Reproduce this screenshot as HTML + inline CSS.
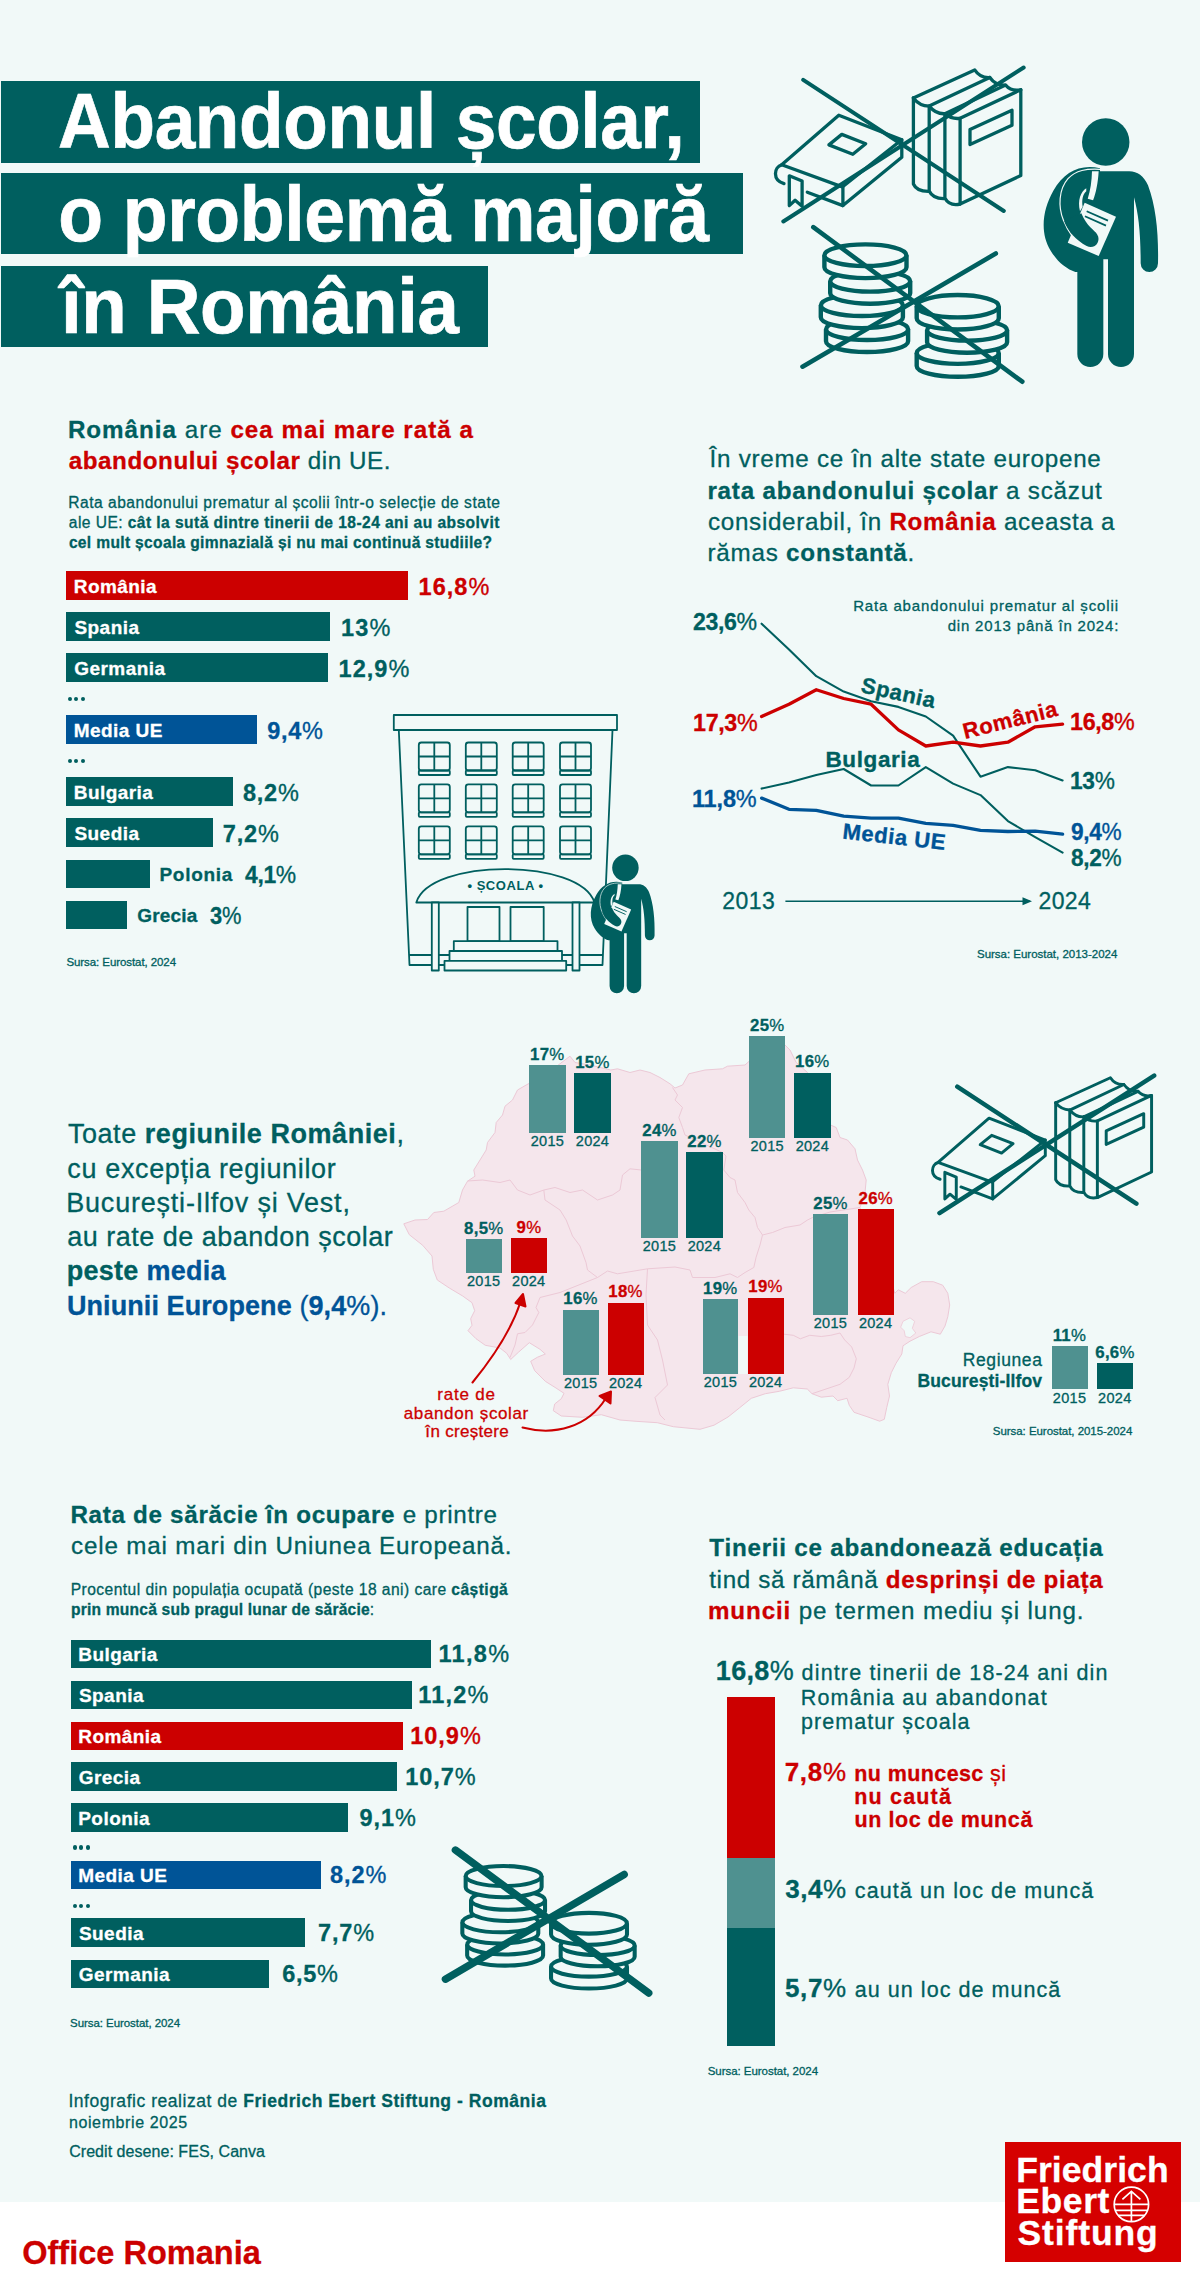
<!DOCTYPE html>
<html lang="ro"><head><meta charset="utf-8"><title>Abandonul școlar, o problemă majoră în România</title>
<style>
html,body{margin:0;padding:0}
body{width:1200px;height:2282px;position:relative;overflow:hidden;background:#f1f9f8;font-family:"Liberation Sans",sans-serif;color:#005f5f}
.t{position:absolute;white-space:nowrap;line-height:1;-webkit-text-stroke:0.3px currentColor}
.r{position:absolute}
svg{position:absolute;left:0;top:0}
b{font-weight:700}
</style></head>
<body>
<svg width="1200" height="2282" viewBox="0 0 1200 2282"><polygon points="403.8,1223.8 415.0,1220.0 427.5,1219.5 433.8,1212.5 443.8,1211.2 458.8,1202.5 462.5,1190.0 467.5,1181.2 475.0,1176.2 473.8,1170.0 480.0,1160.0 486.2,1150.0 487.5,1142.5 495.0,1132.5 496.2,1122.5 502.5,1115.0 505.0,1106.2 512.5,1100.0 517.5,1090.0 526.2,1085.0 540.0,1077.5 555.0,1067.5 570.0,1056.2 575.0,1062.5 590.0,1065.0 610.8,1070.0 617.5,1068.8 630.0,1072.5 640.0,1070.0 650.0,1072.5 660.0,1077.5 670.0,1083.8 675.0,1088.0 682.5,1085.0 688.8,1073.8 705.0,1070.0 722.5,1068.8 727.5,1066.2 745.0,1065.0 749.2,1061.2 765.0,1050.0 785.0,1045.0 790.0,1050.0 796.2,1062.5 807.5,1072.5 815.0,1090.0 825.0,1110.0 830.5,1125.0 836.2,1127.5 840.0,1137.5 847.5,1140.0 855.0,1148.8 857.5,1160.0 862.5,1170.0 866.2,1180.0 865.0,1192.5 860.0,1207.5 868.0,1235.0 880.0,1262.0 893.0,1287.0 894.8,1293.3 898.3,1289.8 905.3,1293.3 911.2,1287.5 921.7,1281.7 933.3,1281.7 942.7,1285.2 947.8,1293.3 949.7,1305.0 947.8,1316.7 945.0,1326.0 940.3,1334.2 931.0,1331.8 919.3,1336.5 910.0,1341.2 903.0,1345.8 901.8,1354.0 896.0,1363.3 891.3,1372.7 887.8,1384.3 889.5,1396.0 886.7,1407.7 884.3,1419.3 879.7,1421.2 868.0,1417.0 854.0,1412.3 849.3,1405.3 847.0,1398.3 837.7,1400.7 833.0,1396.0 821.3,1397.2 812.0,1393.7 807.3,1389.0 793.3,1387.8 779.3,1391.3 765.3,1393.7 751.3,1398.3 739.7,1407.7 728.0,1417.0 714.0,1425.2 700.0,1429.3 673.3,1426.7 657.3,1422.7 636.0,1421.3 620.0,1420.0 601.3,1414.7 582.7,1417.3 561.3,1416.0 553.3,1410.7 554.7,1404.0 561.3,1398.7 564.0,1393.3 556.0,1388.0 545.3,1381.3 534.7,1370.7 530.7,1361.3 537.3,1357.3 545.3,1354.0 540.0,1349.3 529.3,1342.7 518.7,1352.0 510.7,1359.5 506.7,1353.3 500.0,1348.0 485.3,1345.3 476.0,1338.7 468.0,1330.7 472.0,1325.3 470.7,1318.7 474.7,1310.7 472.0,1302.7 462.7,1296.0 449.3,1288.0 437.3,1280.0 433.3,1269.3 432.0,1256.0 422.7,1245.3 409.3,1234.7" fill="#f5e6ec" stroke="#ecc9d6" stroke-width="1" stroke-linejoin="round"/><polyline points="467.5,1181.0 482.5,1180.0 500.0,1182.5 510.0,1180.0 517.5,1190.0 530.0,1195.0 543.8,1190.0 555.0,1187.5 570.0,1192.5 582.5,1190.0 597.5,1200.0 612.5,1195.0 620.0,1190.0 622.5,1175.0 630.0,1168.8 641.2,1170.0" fill="none" stroke="#ecc9d6" stroke-width="1" stroke-linejoin="round"/><polyline points="543.8,1190.0 545.0,1200.0 560.0,1210.0 566.2,1220.0 572.5,1236.0 580.0,1246.0 586.0,1262.5 587.5,1270.0 597.5,1277.5 607.5,1271.0 617.5,1273.8 647.5,1268.8 675.0,1267.0 690.0,1270.0 692.5,1277.5 715.0,1277.5 730.0,1273.8 737.5,1277.5 745.0,1272.5 753.8,1267.5 756.0,1257.5 760.0,1245.0 762.5,1235.0" fill="none" stroke="#ecc9d6" stroke-width="1" stroke-linejoin="round"/><polyline points="647.5,1268.8 646.0,1295.0 647.5,1325.0 657.5,1340.0 662.5,1360.0 667.5,1385.0 655.0,1397.5 660.0,1415.0 665.0,1420.0" fill="none" stroke="#ecc9d6" stroke-width="1" stroke-linejoin="round"/><polyline points="597.5,1277.5 560.0,1292.5 540.0,1297.5 536.0,1307.5 538.8,1312.5 532.5,1325.0 525.0,1332.5 517.5,1333.8 515.0,1345.0 510.0,1357.5" fill="none" stroke="#ecc9d6" stroke-width="1" stroke-linejoin="round"/><polyline points="672.5,1087.5 677.5,1095.0 675.0,1100.0 682.5,1107.5 678.8,1117.5 682.5,1127.5 685.0,1135.0 700.0,1142.0 722.5,1152.5 726.0,1156.0 723.8,1170.0 730.0,1177.5 735.0,1180.0 737.5,1192.5 745.0,1202.5 748.8,1210.0 755.0,1217.5 757.5,1227.5 762.5,1235.0 772.5,1232.5 785.0,1227.5 800.0,1225.0 807.5,1220.0 812.5,1217.5 830.0,1212.0 860.0,1207.5" fill="none" stroke="#ecc9d6" stroke-width="1" stroke-linejoin="round"/><polyline points="784.0,1334.2 793.3,1335.3 800.3,1338.8 809.7,1335.3 821.3,1336.5 830.7,1335.3 840.0,1333.0 844.7,1340.0 851.7,1347.0 856.3,1358.7 854.0,1368.0 849.3,1377.3 840.0,1384.3 826.0,1389.0 812.0,1393.7" fill="none" stroke="#ecc9d6" stroke-width="1" stroke-linejoin="round"/><polygon points="903.0,1321.3 910.0,1317.8 914.7,1321.3 912.3,1328.3 915.8,1333.0 910.0,1337.7 905.3,1336.5 904.2,1330.7 900.7,1327.2" fill="#f1f9f8" stroke="#ecc9d6" stroke-width="0.8"/><rect x="738.5" y="1336" width="9" height="38" fill="#f1f9f8"/></svg>
<div class="r" style="left:1.00px;top:80.50px;width:699.00px;height:82.20px;background:#005f5f;"></div>
<div class="r" style="left:1.00px;top:172.50px;width:742.00px;height:81.25px;background:#005f5f;"></div>
<div class="r" style="left:1.00px;top:265.50px;width:486.50px;height:81.00px;background:#005f5f;"></div>
<div class="t" style="left:58.08px;top:83.00px;font-size:77px;letter-spacing:-0.350px;color:#ffffff;transform:scaleX(0.9469);transform-origin:1.92px 50%;-webkit-text-stroke:0.7px #fff;"><b>Abandonul școlar,</b></div>
<div class="t" style="left:58.49px;top:176.00px;font-size:77px;letter-spacing:-0.350px;color:#ffffff;transform:scaleX(0.9526);transform-origin:3.01px 50%;-webkit-text-stroke:0.7px #fff;"><b>o problemă majoră</b></div>
<div class="t" style="left:60.62px;top:268.00px;font-size:77px;letter-spacing:-0.350px;color:#ffffff;transform:scaleX(0.9664);transform-origin:-3.12px 50%;-webkit-text-stroke:0.7px #fff;"><b>în România</b></div>
<div class="t" style="left:67.88px;top:418.00px;font-size:24.2px;letter-spacing:0.996px;"><b>România</b> are <b style="color:#cc0000">cea mai mare rată a</b></div>
<div class="t" style="left:68.79px;top:449.00px;font-size:24.2px;letter-spacing:0.553px;"><b style="color:#cc0000">abandonului școlar</b> din UE.</div>
<div class="t" style="left:68.22px;top:495.00px;font-size:15.6px;letter-spacing:0.500px;">Rata abandonului prematur al școlii într-o selecție de state</div>
<div class="t" style="left:68.84px;top:515.00px;font-size:15.6px;letter-spacing:0.430px;">ale UE: <b>cât la sută dintre tinerii de 18-24 ani au absolvit</b></div>
<div class="t" style="left:68.89px;top:535.00px;font-size:15.6px;letter-spacing:0.327px;"><b>cel mult școala gimnazială și nu mai continuă studiile?</b></div>
<div class="r" style="left:66.00px;top:571.00px;width:341.50px;height:28.50px;background:#cc0000;"></div>
<div class="t" style="left:73.73px;top:577.00px;font-size:19px;letter-spacing:0.450px;color:#ffffff;"><b>România</b></div>
<div class="t" style="left:418.52px;top:576.00px;font-size:23.5px;letter-spacing:1.046px;color:#cc0000;"><b>16,8</b>%</div>
<div class="r" style="left:66.00px;top:612.00px;width:264.25px;height:28.50px;background:#005f5f;"></div>
<div class="t" style="left:74.45px;top:618.00px;font-size:19px;letter-spacing:0.450px;color:#ffffff;"><b>Spania</b></div>
<div class="t" style="left:341.02px;top:617.00px;font-size:23.5px;letter-spacing:1.141px;"><b>13</b>%</div>
<div class="r" style="left:66.00px;top:653.00px;width:262.25px;height:28.50px;background:#005f5f;"></div>
<div class="t" style="left:74.22px;top:659.00px;font-size:19px;letter-spacing:0.450px;color:#ffffff;"><b>Germania</b></div>
<div class="t" style="left:338.52px;top:658.00px;font-size:23.5px;letter-spacing:1.046px;"><b>12,9</b>%</div>
<div class="r" style="left:66.00px;top:715.00px;width:191.00px;height:28.50px;background:#005497;"></div>
<div class="t" style="left:73.73px;top:721.00px;font-size:19px;letter-spacing:0.450px;color:#ffffff;"><b>Media UE</b></div>
<div class="t" style="left:267.19px;top:720.00px;font-size:23.5px;letter-spacing:0.696px;color:#005497;"><b>9,4</b>%</div>
<div class="r" style="left:66.00px;top:777.00px;width:166.75px;height:28.50px;background:#005f5f;"></div>
<div class="t" style="left:73.73px;top:783.00px;font-size:19px;letter-spacing:0.450px;color:#ffffff;"><b>Bulgaria</b></div>
<div class="t" style="left:243.00px;top:782.00px;font-size:23.5px;letter-spacing:0.756px;"><b>8,2</b>%</div>
<div class="r" style="left:66.00px;top:818.00px;width:146.50px;height:28.50px;background:#005f5f;"></div>
<div class="t" style="left:74.45px;top:824.00px;font-size:19px;letter-spacing:0.450px;color:#ffffff;"><b>Suedia</b></div>
<div class="t" style="left:222.74px;top:823.00px;font-size:23.5px;letter-spacing:0.844px;"><b>7,2</b>%</div>
<div class="r" style="left:66.00px;top:859.50px;width:83.50px;height:28.50px;background:#005f5f;"></div>
<div class="t" style="left:159.48px;top:865.00px;font-size:19px;letter-spacing:0.714px;"><b>Polonia</b></div>
<div class="t" style="left:244.64px;top:864.00px;font-size:23.5px;letter-spacing:-0.350px;transform:scaleX(0.9743);transform-origin:0.36px 50%;"><b>4,1</b>%</div>
<div class="r" style="left:66.00px;top:900.50px;width:61.00px;height:28.50px;background:#005f5f;"></div>
<div class="t" style="left:137.22px;top:906.00px;font-size:19px;letter-spacing:0.201px;"><b>Grecia</b></div>
<div class="t" style="left:210.46px;top:905.00px;font-size:23.5px;letter-spacing:-0.350px;transform:scaleX(0.9306);transform-origin:0.54px 50%;"><b>3</b>%</div>
<div class="r" style="left:67.5px;top:696.7px;width:4.2px;height:4.2px;border-radius:50%;background:#005f5f"></div>
<div class="r" style="left:74.0px;top:696.7px;width:4.2px;height:4.2px;border-radius:50%;background:#005f5f"></div>
<div class="r" style="left:80.5px;top:696.7px;width:4.2px;height:4.2px;border-radius:50%;background:#005f5f"></div>
<div class="r" style="left:67.5px;top:758.9px;width:4.2px;height:4.2px;border-radius:50%;background:#005f5f"></div>
<div class="r" style="left:74.0px;top:758.9px;width:4.2px;height:4.2px;border-radius:50%;background:#005f5f"></div>
<div class="r" style="left:80.5px;top:758.9px;width:4.2px;height:4.2px;border-radius:50%;background:#005f5f"></div>
<div class="t" style="left:66.48px;top:957.00px;font-size:11.5px;letter-spacing:-0.082px;">Sursa: Eurostat, 2024</div>
<div class="t" style="left:709.54px;top:447.00px;font-size:24.2px;letter-spacing:0.734px;">În vreme ce în alte state europene</div>
<div class="t" style="left:707.40px;top:479.00px;font-size:24.2px;letter-spacing:0.796px;"><b>rata abandonului școlar</b> a scăzut</div>
<div class="t" style="left:707.97px;top:510.00px;font-size:24.2px;letter-spacing:0.705px;">considerabil, în <b style="color:#cc0000">România</b> aceasta a</div>
<div class="t" style="left:707.39px;top:541.00px;font-size:24.2px;letter-spacing:0.802px;">rămas <b>constantă</b>.</div>
<div class="t" style="left:853.17px;top:598.00px;font-size:15px;letter-spacing:0.874px;">Rata abandonului prematur al școlii</div>
<div class="t" style="left:947.67px;top:618.00px;font-size:15px;letter-spacing:0.821px;">din 2013 până în 2024:</div>
<div class="t" style="left:692.59px;top:611.00px;font-size:23.5px;letter-spacing:-0.350px;transform:scaleX(0.9830);transform-origin:0.81px 50%;"><b>23,6</b>%</div>
<div class="t" style="left:693.12px;top:712.00px;font-size:23.5px;letter-spacing:-0.350px;color:#cc0000;transform:scaleX(0.9918);transform-origin:1.48px 50%;"><b>17,3</b>%</div>
<div class="t" style="left:691.92px;top:788.00px;font-size:23.5px;letter-spacing:-0.130px;color:#005497;"><b>11,8</b>%</div>
<div class="t" style="left:1070.32px;top:711.00px;font-size:23.5px;letter-spacing:-0.350px;color:#cc0000;transform:scaleX(0.9918);transform-origin:1.48px 50%;"><b>16,8</b>%</div>
<div class="t" style="left:1070.32px;top:770.00px;font-size:23.5px;letter-spacing:-0.350px;transform:scaleX(0.9655);transform-origin:1.48px 50%;"><b>13</b>%</div>
<div class="t" style="left:1070.99px;top:821.00px;font-size:23.5px;letter-spacing:-0.350px;color:#005497;transform:scaleX(0.9634);transform-origin:0.81px 50%;"><b>9,4</b>%</div>
<div class="t" style="left:1071.05px;top:847.00px;font-size:23.5px;letter-spacing:-0.350px;transform:scaleX(0.9621);transform-origin:0.75px 50%;"><b>8,2</b>%</div>
<div class="t" style="left:722.14px;top:890.00px;font-size:23px;letter-spacing:0.534px;">2013</div>
<div class="t" style="left:1038.44px;top:890.00px;font-size:23px;letter-spacing:0.422px;">2024</div>
<div class="t" style="left:976.98px;top:949.00px;font-size:11.5px;letter-spacing:-0.012px;">Sursa: Eurostat, 2013-2024</div>
<div class="t" style="left:67.89px;top:1121.00px;font-size:27px;letter-spacing:0.560px;">Toate <b>regiunile României</b>,</div>
<div class="t" style="left:67.35px;top:1156.00px;font-size:27px;letter-spacing:0.627px;">cu excepția regiunilor</div>
<div class="t" style="left:66.29px;top:1190.00px;font-size:27px;letter-spacing:0.784px;">București-Ilfov și Vest,</div>
<div class="t" style="left:67.35px;top:1224.00px;font-size:27px;letter-spacing:0.486px;">au rate de abandon școlar</div>
<div class="t" style="left:66.72px;top:1258.00px;font-size:27px;letter-spacing:0.284px;"><b>peste</b> <b style="color:#005497">media</b></div>
<div class="t" style="left:66.88px;top:1293.00px;font-size:27px;letter-spacing:0.089px;color:#005497;"><b>Uniunii Europene</b> (<b>9,4</b>%).</div>
<div class="r" style="left:529.25px;top:1065.00px;width:36.25px;height:68.25px;background:#4f9190;"></div>
<div class="r" style="left:574.25px;top:1073.25px;width:36.50px;height:60.00px;background:#005f5f;"></div>
<div class="t" style="left:530.08px;top:1047.00px;font-size:16.8px;letter-spacing:0.300px;"><b>17</b>%</div>
<div class="t" style="left:575.21px;top:1055.00px;font-size:16.8px;letter-spacing:0.300px;"><b>15</b>%</div>
<div class="t" style="left:530.74px;top:1134.00px;font-size:14.5px;letter-spacing:0.300px;">2015</div>
<div class="t" style="left:575.77px;top:1134.00px;font-size:14.5px;letter-spacing:0.300px;">2024</div>
<div class="r" style="left:749.25px;top:1035.75px;width:35.75px;height:101.75px;background:#4f9190;"></div>
<div class="r" style="left:794.25px;top:1072.50px;width:36.25px;height:65.00px;background:#005f5f;"></div>
<div class="t" style="left:750.07px;top:1018.00px;font-size:16.8px;letter-spacing:0.300px;"><b>25</b>%</div>
<div class="t" style="left:795.08px;top:1054.00px;font-size:16.8px;letter-spacing:0.300px;"><b>16</b>%</div>
<div class="t" style="left:750.49px;top:1139.00px;font-size:14.5px;letter-spacing:0.300px;">2015</div>
<div class="t" style="left:795.64px;top:1139.00px;font-size:14.5px;letter-spacing:0.300px;">2024</div>
<div class="r" style="left:641.25px;top:1141.25px;width:36.25px;height:97.00px;background:#4f9190;"></div>
<div class="r" style="left:686.25px;top:1151.75px;width:36.25px;height:86.50px;background:#005f5f;"></div>
<div class="t" style="left:642.32px;top:1123.00px;font-size:16.8px;letter-spacing:0.300px;"><b>24</b>%</div>
<div class="t" style="left:687.32px;top:1134.00px;font-size:16.8px;letter-spacing:0.300px;"><b>22</b>%</div>
<div class="t" style="left:642.74px;top:1239.00px;font-size:14.5px;letter-spacing:0.300px;">2015</div>
<div class="t" style="left:687.64px;top:1239.00px;font-size:14.5px;letter-spacing:0.300px;">2024</div>
<div class="r" style="left:465.50px;top:1238.75px;width:36.25px;height:33.75px;background:#4f9190;"></div>
<div class="r" style="left:510.75px;top:1238.00px;width:36.00px;height:34.50px;background:#cc0000;"></div>
<div class="t" style="left:464.12px;top:1221.00px;font-size:16.8px;letter-spacing:0.300px;"><b>8,5</b>%</div>
<div class="t" style="left:516.50px;top:1220.00px;font-size:16.8px;letter-spacing:0.300px;color:#cc0000;"><b>9</b>%</div>
<div class="t" style="left:466.99px;top:1274.00px;font-size:14.5px;letter-spacing:0.300px;">2015</div>
<div class="t" style="left:512.02px;top:1274.00px;font-size:14.5px;letter-spacing:0.300px;">2024</div>
<div class="r" style="left:562.50px;top:1309.50px;width:36.25px;height:65.00px;background:#4f9190;"></div>
<div class="r" style="left:607.50px;top:1302.50px;width:36.25px;height:72.00px;background:#cc0000;"></div>
<div class="t" style="left:563.33px;top:1291.00px;font-size:16.8px;letter-spacing:0.300px;"><b>16</b>%</div>
<div class="t" style="left:608.33px;top:1284.00px;font-size:16.8px;letter-spacing:0.300px;color:#cc0000;"><b>18</b>%</div>
<div class="t" style="left:563.99px;top:1376.00px;font-size:14.5px;letter-spacing:0.300px;">2015</div>
<div class="t" style="left:608.89px;top:1376.00px;font-size:14.5px;letter-spacing:0.300px;">2024</div>
<div class="r" style="left:702.50px;top:1299.25px;width:35.75px;height:74.50px;background:#4f9190;"></div>
<div class="r" style="left:747.50px;top:1297.50px;width:36.25px;height:76.25px;background:#cc0000;"></div>
<div class="t" style="left:703.08px;top:1281.00px;font-size:16.8px;letter-spacing:0.300px;"><b>19</b>%</div>
<div class="t" style="left:748.33px;top:1279.00px;font-size:16.8px;letter-spacing:0.300px;color:#cc0000;"><b>19</b>%</div>
<div class="t" style="left:703.74px;top:1375.00px;font-size:14.5px;letter-spacing:0.300px;">2015</div>
<div class="t" style="left:748.89px;top:1375.00px;font-size:14.5px;letter-spacing:0.300px;">2024</div>
<div class="r" style="left:812.50px;top:1213.75px;width:35.75px;height:100.75px;background:#4f9190;"></div>
<div class="r" style="left:857.50px;top:1208.75px;width:36.25px;height:105.75px;background:#cc0000;"></div>
<div class="t" style="left:813.32px;top:1196.00px;font-size:16.8px;letter-spacing:0.300px;"><b>25</b>%</div>
<div class="t" style="left:858.57px;top:1191.00px;font-size:16.8px;letter-spacing:0.300px;color:#cc0000;"><b>26</b>%</div>
<div class="t" style="left:813.74px;top:1316.00px;font-size:14.5px;letter-spacing:0.300px;">2015</div>
<div class="t" style="left:858.89px;top:1316.00px;font-size:14.5px;letter-spacing:0.300px;">2024</div>
<div class="r" style="left:1051.50px;top:1346.10px;width:36.00px;height:43.20px;background:#4f9190;"></div>
<div class="r" style="left:1096.80px;top:1363.20px;width:36.00px;height:26.10px;background:#005f5f;"></div>
<div class="t" style="left:1052.67px;top:1328.00px;font-size:16.8px;letter-spacing:0.300px;"><b>11</b>%</div>
<div class="t" style="left:1095.25px;top:1345.00px;font-size:16.8px;letter-spacing:0.300px;"><b>6,6</b>%</div>
<div class="t" style="left:1052.86px;top:1391.00px;font-size:14.5px;letter-spacing:0.300px;">2015</div>
<div class="t" style="left:1098.07px;top:1391.00px;font-size:14.5px;letter-spacing:0.300px;">2024</div>
<div class="t" style="left:962.78px;top:1352.00px;font-size:17.5px;letter-spacing:0.600px;">Regiunea</div>
<div class="t" style="left:917.53px;top:1373.00px;font-size:17.5px;letter-spacing:0.138px;"><b>București-Ilfov</b></div>
<div class="t" style="left:992.78px;top:1426.00px;font-size:11.5px;letter-spacing:-0.044px;">Sursa: Eurostat, 2015-2024</div>
<div class="t" style="left:437.20px;top:1386.00px;font-size:17px;letter-spacing:0.800px;color:#cc0000;">rate de</div>
<div class="t" style="left:403.78px;top:1405.00px;font-size:17px;letter-spacing:0.634px;color:#cc0000;">abandon școlar</div>
<div class="t" style="left:425.37px;top:1423.00px;font-size:17px;letter-spacing:0.307px;color:#cc0000;">în creștere</div>
<div class="t" style="left:70.38px;top:1503.00px;font-size:24.2px;letter-spacing:0.705px;"><b>Rata de sărăcie în ocupare</b> e printre</div>
<div class="t" style="left:70.97px;top:1534.00px;font-size:24.2px;letter-spacing:0.833px;">cele mai mari din Uniunea Europeană.</div>
<div class="t" style="left:70.72px;top:1582.00px;font-size:15.6px;letter-spacing:0.451px;">Procentul din populația ocupată (peste 18 ani) care <b>câștigă</b></div>
<div class="t" style="left:70.97px;top:1602.00px;font-size:15.6px;letter-spacing:0.202px;"><b>prin muncă sub pragul lunar de sărăcie</b>:</div>
<div class="r" style="left:70.50px;top:1639.50px;width:360.00px;height:28.50px;background:#005f5f;"></div>
<div class="t" style="left:78.23px;top:1645.00px;font-size:19px;letter-spacing:0.450px;color:#ffffff;"><b>Bulgaria</b></div>
<div class="t" style="left:438.52px;top:1643.00px;font-size:23.5px;letter-spacing:1.320px;"><b>11,8</b>%</div>
<div class="r" style="left:70.50px;top:1680.50px;width:341.50px;height:28.50px;background:#005f5f;"></div>
<div class="t" style="left:78.95px;top:1686.00px;font-size:19px;letter-spacing:0.450px;color:#ffffff;"><b>Spania</b></div>
<div class="t" style="left:418.22px;top:1684.00px;font-size:23.5px;letter-spacing:1.195px;"><b>11,2</b>%</div>
<div class="r" style="left:70.50px;top:1721.50px;width:332.50px;height:28.50px;background:#cc0000;"></div>
<div class="t" style="left:78.23px;top:1727.00px;font-size:19px;letter-spacing:0.450px;color:#ffffff;"><b>România</b></div>
<div class="t" style="left:410.22px;top:1725.00px;font-size:23.5px;letter-spacing:0.996px;color:#cc0000;"><b>10,9</b>%</div>
<div class="r" style="left:70.50px;top:1762.20px;width:326.50px;height:28.50px;background:#005f5f;"></div>
<div class="t" style="left:78.72px;top:1768.00px;font-size:19px;letter-spacing:0.450px;color:#ffffff;"><b>Grecia</b></div>
<div class="t" style="left:405.22px;top:1766.00px;font-size:23.5px;letter-spacing:0.921px;"><b>10,7</b>%</div>
<div class="r" style="left:70.50px;top:1803.40px;width:277.30px;height:28.50px;background:#005f5f;"></div>
<div class="t" style="left:78.23px;top:1809.00px;font-size:19px;letter-spacing:0.450px;color:#ffffff;"><b>Polonia</b></div>
<div class="t" style="left:359.49px;top:1807.00px;font-size:23.5px;letter-spacing:0.929px;"><b>9,1</b>%</div>
<div class="r" style="left:70.50px;top:1860.80px;width:250.00px;height:28.50px;background:#005497;"></div>
<div class="t" style="left:78.23px;top:1866.00px;font-size:19px;letter-spacing:0.450px;color:#ffffff;"><b>Media UE</b></div>
<div class="t" style="left:329.95px;top:1864.00px;font-size:23.5px;letter-spacing:0.973px;color:#005497;"><b>8,2</b>%</div>
<div class="r" style="left:70.50px;top:1918.40px;width:234.75px;height:28.50px;background:#005f5f;"></div>
<div class="t" style="left:78.95px;top:1924.00px;font-size:19px;letter-spacing:0.450px;color:#ffffff;"><b>Suedia</b></div>
<div class="t" style="left:317.99px;top:1922.00px;font-size:23.5px;letter-spacing:0.861px;"><b>7,7</b>%</div>
<div class="r" style="left:70.50px;top:1959.50px;width:198.50px;height:28.50px;background:#005f5f;"></div>
<div class="t" style="left:78.72px;top:1965.00px;font-size:19px;letter-spacing:0.450px;color:#ffffff;"><b>Germania</b></div>
<div class="t" style="left:282.14px;top:1963.00px;font-size:23.5px;letter-spacing:0.711px;"><b>6,5</b>%</div>
<div class="r" style="left:72.5px;top:1845.4px;width:4.2px;height:4.2px;border-radius:50%;background:#005f5f"></div>
<div class="r" style="left:79.0px;top:1845.4px;width:4.2px;height:4.2px;border-radius:50%;background:#005f5f"></div>
<div class="r" style="left:85.5px;top:1845.4px;width:4.2px;height:4.2px;border-radius:50%;background:#005f5f"></div>
<div class="r" style="left:72.5px;top:1903.7px;width:4.2px;height:4.2px;border-radius:50%;background:#005f5f"></div>
<div class="r" style="left:79.0px;top:1903.7px;width:4.2px;height:4.2px;border-radius:50%;background:#005f5f"></div>
<div class="r" style="left:85.5px;top:1903.7px;width:4.2px;height:4.2px;border-radius:50%;background:#005f5f"></div>
<div class="t" style="left:70.08px;top:2018.00px;font-size:11.5px;letter-spacing:-0.064px;">Sursa: Eurostat, 2024</div>
<div class="t" style="left:709.33px;top:1536.00px;font-size:24.2px;letter-spacing:0.760px;"><b>Tinerii ce abandonează educația</b></div>
<div class="t" style="left:709.23px;top:1568.00px;font-size:24.2px;letter-spacing:0.659px;">tind să rămână <b style="color:#cc0000">desprinși de piața</b></div>
<div class="t" style="left:708.00px;top:1599.00px;font-size:24.2px;letter-spacing:0.866px;"><b style="color:#cc0000">muncii</b> pe termen mediu și lung.</div>
<div class="r" style="left:727.00px;top:1696.50px;width:48.20px;height:161.50px;background:#cc0000;"></div>
<div class="r" style="left:727.00px;top:1858.00px;width:48.20px;height:70.30px;background:#4f9190;"></div>
<div class="r" style="left:727.00px;top:1928.30px;width:48.20px;height:118.00px;background:#005f5f;"></div>
<div class="t" style="left:715.80px;top:1658.00px;font-size:27px;letter-spacing:0.339px;"><b>16,8</b>%</div>
<div class="t" style="left:801.60px;top:1663.00px;font-size:21.5px;letter-spacing:1.150px;">dintre tinerii de 18-24 ani din</div>
<div class="t" style="left:800.74px;top:1688.00px;font-size:21.5px;letter-spacing:1.178px;">România au abandonat</div>
<div class="t" style="left:801.11px;top:1712.00px;font-size:21.5px;letter-spacing:1.017px;">prematur școala</div>
<div class="t" style="left:784.63px;top:1759.00px;font-size:26px;letter-spacing:0.759px;color:#cc0000;"><b>7,8</b>%</div>
<div class="t" style="left:854.33px;top:1764.00px;font-size:21.5px;letter-spacing:0.389px;color:#cc0000;"><b>nu muncesc</b> și</div>
<div class="t" style="left:854.33px;top:1787.00px;font-size:21.5px;letter-spacing:1.161px;color:#cc0000;"><b>nu caută</b></div>
<div class="t" style="left:854.42px;top:1810.00px;font-size:21.5px;letter-spacing:0.594px;color:#cc0000;"><b>un loc de muncă</b></div>
<div class="t" style="left:785.15px;top:1876.00px;font-size:26px;letter-spacing:0.586px;"><b>3,4</b>%</div>
<div class="t" style="left:854.84px;top:1881.00px;font-size:21.5px;letter-spacing:1.102px;">caută un loc de muncă</div>
<div class="t" style="left:784.95px;top:1975.00px;font-size:26px;letter-spacing:0.654px;"><b>5,7</b>%</div>
<div class="t" style="left:854.84px;top:1980.00px;font-size:21.5px;letter-spacing:1.042px;">au un loc de muncă</div>
<div class="t" style="left:707.68px;top:2066.00px;font-size:11.5px;letter-spacing:-0.042px;">Sursa: Eurostat, 2024</div>
<div class="t" style="left:68.39px;top:2093.00px;font-size:17.5px;letter-spacing:0.539px;">Infografic realizat de <b>Friedrich Ebert Stiftung - România</b></div>
<div class="t" style="left:68.94px;top:2115.00px;font-size:16px;letter-spacing:0.611px;">noiembrie 2025</div>
<div class="t" style="left:69.19px;top:2144.00px;font-size:16px;letter-spacing:0.044px;">Credit desene: FES, Canva</div>
<div class="r" style="left:0.00px;top:2201.50px;width:1200.00px;height:80.50px;background:#ffffff;"></div>
<div class="t" style="left:22.17px;top:2237.00px;font-size:32.5px;letter-spacing:0.019px;color:#cc0000;"><b>Office Romania</b></div>
<div class="r" style="left:1005.00px;top:2142.30px;width:175.80px;height:119.30px;background:#d50000;"></div>
<div class="t" style="left:1016.13px;top:2153.00px;font-size:35.5px;letter-spacing:0.072px;color:#ffffff;"><b>Friedrich</b></div>
<div class="t" style="left:1016.13px;top:2184.00px;font-size:35.5px;letter-spacing:0.641px;color:#ffffff;"><b>Ebert</b></div>
<div class="t" style="left:1017.48px;top:2216.00px;font-size:35.5px;letter-spacing:0.890px;color:#ffffff;"><b>Stiftung</b></div>
<svg width="1200" height="2282" viewBox="0 0 1200 2282" font-family="Liberation Sans, sans-serif">
<defs><g id="books" fill="none" stroke="#005f5f" stroke-width="3.3" stroke-linejoin="round" stroke-linecap="round">
<path d="M781.7,164.8 L838.8,115.2 L901.8,139.7 L842.3,186.9 Z"/>
<path d="M781.7,164.8 C774,167 772,180 784,183.6"/>
<path d="M901.8,139.7 V157.2 L842.9,205.6 V186.9"/>
<path d="M842.9,205.6 L807.3,192.2"/>
<path d="M789.3,175.8 L802.1,181.1 V206.2 L795.1,200.3 L789.3,205.6 Z"/>
<path d="M841.8,134.4 L865.7,143.75 L852.8,154.25 L828.9,144.9 Z"/>
<path d="M960.1,118.3 L1020.8,89.75 V175.5 L960.1,204.1 Z"/>
<path d="M970,129.4 L1012,110.2 V125.3 L970,144.6 Z"/>
<path d="M913.4,97.9 V184 C916,190 922,191.5 929.2,191.3 M929.2,106.1 V191 C932,197 938,198.8 944.9,198.5 M944.9,113.7 V198 C948,204 953,205.6 960.1,204.1"/>
<path d="M913.4,97.9 C918,104 924,106 929.2,106.1 C934,112 940,114 944.9,113.7 C950,118 955,119 960.1,118.3"/>
<path d="M913.4,97.9 L974.7,69.9 C978,75 983,78 989.8,77.5 C993,82 999,85.5 1005.6,85.1 C1009,89 1015,91 1020.8,89.75"/>
<path d="M929.2,106.1 L989.8,77.5 M944.9,113.7 L1005.6,85.1"/>
</g><g id="coins" stroke="#005f5f" stroke-width="4.4" stroke-linejoin="round"><path d="M826.0,329.2 V341.2 A41.0,10.8 0 0 0 908.1,341.2 V329.2" fill="#f1f9f8"/><ellipse cx="867.1" cy="329.2" rx="41.0" ry="10.8" fill="#f1f9f8"/><path d="M820.8,305.2 V317.3 A41.0,10.8 0 0 0 902.9,317.3 V305.2" fill="#f1f9f8"/><ellipse cx="861.9" cy="305.2" rx="41.0" ry="10.8" fill="#f1f9f8"/><path d="M830.2,281.2 V293.3 A40.0,10.4 0 0 0 910.2,293.3 V281.2" fill="#f1f9f8"/><ellipse cx="870.2" cy="281.2" rx="40.0" ry="10.4" fill="#f1f9f8"/><path d="M824.4,255.2 V267.3 A41.0,10.8 0 0 0 906.5,267.3 V255.2" fill="#f1f9f8"/><ellipse cx="865.4" cy="255.2" rx="41.0" ry="10.8" fill="#f1f9f8"/><path d="M916.7,353.1 V366.0 A41.0,10.8 0 0 0 998.8,366.0 V353.1" fill="#f1f9f8"/><ellipse cx="957.7" cy="353.1" rx="41.0" ry="10.8" fill="#f1f9f8"/><path d="M927.1,330.2 V342.3 A40.0,10.4 0 0 0 1007.1,342.3 V330.2" fill="#f1f9f8"/><ellipse cx="967.1" cy="330.2" rx="40.0" ry="10.4" fill="#f1f9f8"/><path d="M916.7,306.2 V318.3 A41.0,11.2 0 0 0 998.8,318.3 V306.2" fill="#f1f9f8"/><ellipse cx="957.7" cy="306.2" rx="41.0" ry="11.2" fill="#f1f9f8"/></g><g id="person">
<circle cx="643" cy="315" r="178" fill="#005f5f"/>
<path fill="#005f5f" d="M600,512 C450,478 330,540 250,680 C165,830 150,1000 230,1130 C280,1215 350,1268 415,1290 L430,1290 L430,1905 A97,97 0 0 0 625,1905 L625,1195 L660,1195 L660,1905 A97,97 0 0 0 855,1905 L855,730 C890,860 905,1000 905,1225 A65,65 0 0 0 1035,1225 C1040,1000 1020,800 960,640 C930,570 880,535 820,535 L600,535 Z"/>
<path fill="none" stroke="#f1f9f8" stroke-width="9" stroke-linecap="round" d="M598,520 C500,515 420,525 360,590 C290,670 285,800 325,900 C345,950 365,985 390,1020"/>
<path fill="#f1f9f8" d="M497,662 C455,690 430,750 450,835 L470,800 C462,750 470,710 497,685 Z"/>
<path fill="#f1f9f8" d="M485,770 L720,875 L590,1170 L358,1070 Z"/>
<path fill="none" stroke="#005f5f" stroke-width="13" d="M500,835 L660,905 M487,872 L645,942"/>
<path fill="#005f5f" d="M330,905 C360,985 420,1050 500,1095 C560,1125 610,1060 580,1010 C560,975 500,950 460,850 Z"/>
<path fill="#f1f9f8" d="M540,535 L590,535 C585,620 570,700 548,752 L508,740 C528,680 538,610 540,535 Z"/>
</g></defs>
<use href="#books"/><path d="M803.2,79.9 L1003.8,211 M783.3,221.5 L1023.7,67.5" stroke="#005f5f" stroke-width="4" stroke-linecap="round" fill="none"/>
<g transform="translate(240,1015.3) scale(0.893)"><use href="#books"/><path d="M803.2,79.9 L1003.8,211 M783.3,221.5 L1023.7,67.5" stroke="#005f5f" stroke-width="5" stroke-linecap="round" fill="none"/></g>
<use href="#coins"/><path d="M813.3,227.1 L1022.3,381.7 M802.5,366.7 L995.8,253.5" stroke="#005f5f" stroke-width="4.6" stroke-linecap="round" fill="none"/>
<g transform="translate(-296.9,1640) scale(0.925)"><use href="#coins"/><path d="M813.3,227.1 L1022.3,381.7 M802.5,366.7 L995.8,253.5" stroke="#005f5f" stroke-width="8" stroke-linecap="round" fill="none"/></g>
<g transform="translate(1020,100) scale(0.13333)"><use href="#person"/></g>
<g fill="none" stroke="#005f5f" stroke-width="1.8" stroke-linejoin="round">
<rect x="393.8" y="715" width="223.2" height="15"/>
<path d="M398.8,730 L409.5,965 H602.5 L612.5,730"/>
<path d="M409,955 H603"/>
<rect x="418.8" y="742.5" width="31" height="28" rx="2.5"/><rect x="418.8" y="770.5" width="31" height="4.5" rx="1"/><path d="M434.3,742.5 v28 M418.8,756.5 h31"/><rect x="465.8" y="742.5" width="31" height="28" rx="2.5"/><rect x="465.8" y="770.5" width="31" height="4.5" rx="1"/><path d="M481.3,742.5 v28 M465.8,756.5 h31"/><rect x="512.7" y="742.5" width="31" height="28" rx="2.5"/><rect x="512.7" y="770.5" width="31" height="4.5" rx="1"/><path d="M528.2,742.5 v28 M512.7,756.5 h31"/><rect x="560" y="742.5" width="31" height="28" rx="2.5"/><rect x="560" y="770.5" width="31" height="4.5" rx="1"/><path d="M575.5,742.5 v28 M560,756.5 h31"/><rect x="418.8" y="784.3" width="31" height="28" rx="2.5"/><rect x="418.8" y="812.3" width="31" height="4.5" rx="1"/><path d="M434.3,784.3 v28 M418.8,798.3 h31"/><rect x="465.8" y="784.3" width="31" height="28" rx="2.5"/><rect x="465.8" y="812.3" width="31" height="4.5" rx="1"/><path d="M481.3,784.3 v28 M465.8,798.3 h31"/><rect x="512.7" y="784.3" width="31" height="28" rx="2.5"/><rect x="512.7" y="812.3" width="31" height="4.5" rx="1"/><path d="M528.2,784.3 v28 M512.7,798.3 h31"/><rect x="560" y="784.3" width="31" height="28" rx="2.5"/><rect x="560" y="812.3" width="31" height="4.5" rx="1"/><path d="M575.5,784.3 v28 M560,798.3 h31"/><rect x="418.8" y="826.3" width="31" height="28" rx="2.5"/><rect x="418.8" y="854.3" width="31" height="4.5" rx="1"/><path d="M434.3,826.3 v28 M418.8,840.3 h31"/><rect x="465.8" y="826.3" width="31" height="28" rx="2.5"/><rect x="465.8" y="854.3" width="31" height="4.5" rx="1"/><path d="M481.3,826.3 v28 M465.8,840.3 h31"/><rect x="512.7" y="826.3" width="31" height="28" rx="2.5"/><rect x="512.7" y="854.3" width="31" height="4.5" rx="1"/><path d="M528.2,826.3 v28 M512.7,840.3 h31"/><rect x="560" y="826.3" width="31" height="28" rx="2.5"/><rect x="560" y="854.3" width="31" height="4.5" rx="1"/><path d="M575.5,826.3 v28 M560,840.3 h31"/>
<path d="M416.3,902.5 C430,858 580,858 594.5,902.5 Z" fill="#f1f9f8"/>
<rect x="431.8" y="902.5" width="7" height="68" fill="#f1f9f8"/><rect x="572.5" y="902.5" width="7" height="68" fill="#f1f9f8"/>
<rect x="467.5" y="907" width="32" height="34.2"/><rect x="510.5" y="907" width="33.2" height="34.2"/>
<rect x="453.8" y="941.2" width="103.7" height="10" fill="#f1f9f8"/><rect x="449.5" y="951" width="112.5" height="9.8" fill="#f1f9f8"/><rect x="444.5" y="960.8" width="121.7" height="9.7" fill="#f1f9f8"/>
</g>
<text x="505.5" y="890" text-anchor="middle" font-size="13" font-weight="700" letter-spacing="0.55" fill="#005f5f">• ȘCOALA •</text>
<g transform="translate(577.6,844.4) scale(0.07437)"><use href="#person"/></g>
<polyline points="761.6,623.7 789.0,649.4 816.3,676.2 843.7,691.6 871.1,701.2 898.4,706.9 925.8,716.5 953.1,735.7 980.5,776.7 1007.9,767.1 1035.2,770.2 1062.6,780.5" fill="none" stroke="#005f5f" stroke-width="2.1" stroke-linejoin="round" stroke-linecap="round"/><polyline points="761.6,788.6 789.0,782.4 816.3,775.1 843.7,769.0 871.1,785.5 898.4,785.5 925.8,767.1 953.1,783.6 980.5,795.1 1007.9,821.1 1035.2,837.2 1062.6,852.6" fill="none" stroke="#005f5f" stroke-width="2.1" stroke-linejoin="round" stroke-linecap="round"/><polyline points="761.6,716.5 789.0,704.2 816.3,689.7 843.7,698.5 871.1,704.2 898.4,729.9 925.8,746.0 953.1,742.2 980.5,746.0 1007.9,742.2 1035.2,726.8 1062.6,724.2" fill="none" stroke="#cc0000" stroke-width="3.3" stroke-linejoin="round" stroke-linecap="round"/><polyline points="761.6,798.1 789.0,809.3 816.3,810.4 843.7,816.2 871.1,818.1 898.4,818.1 925.8,823.4 953.1,825.4 980.5,830.3 1007.9,831.5 1035.2,831.1 1062.6,834.2" fill="none" stroke="#005497" stroke-width="3.3" stroke-linejoin="round" stroke-linecap="round"/><path d="M785.4,901.3 H1030" stroke="#005f5f" stroke-width="1.6" fill="none"/><path d="M1022.5,897.3 L1032,901.3 L1022.5,905.3 Z" fill="#005f5f"/><text transform="translate(860,692) rotate(12.5)" font-size="22" font-weight="700" letter-spacing="0.6" fill="#005f5f" stroke="#005f5f" stroke-width="0.35">Spania</text><text transform="translate(965,739) rotate(-14)" font-size="22" font-weight="700" letter-spacing="0.6" fill="#cc0000" stroke="#cc0000" stroke-width="0.35">România</text><text transform="translate(825.5,766.8) rotate(0)" font-size="22.5" font-weight="700" letter-spacing="0.6" fill="#005f5f" stroke="#005f5f" stroke-width="0.35">Bulgaria</text><text transform="translate(842,838.5) rotate(6.4)" font-size="22" font-weight="700" letter-spacing="0.6" fill="#005497" stroke="#005497" stroke-width="0.35">Media UE</text>
<g fill="none" stroke="#cc0000" stroke-width="2" stroke-linecap="round" stroke-linejoin="round">
<path d="M472.5,1382.5 C495,1355 512,1328 520.5,1302"/>
<path d="M515.5,1303 L523,1294 L525.5,1306.5 Z" fill="#cc0000"/>
<path d="M522.5,1427.5 C555,1436 588,1427 606,1398"/>
<path d="M599.5,1396 L611,1391.5 L610.5,1403.5 Z" fill="#cc0000"/>
</g>
<g fill="none" stroke="#fff" stroke-width="1.7">
<circle cx="1131.4" cy="2204.4" r="17.2"/>
<path d="M1131.4,2191.4 V2221.6 M1122.4,2199.4 L1131.4,2191.4 L1140.4,2199.4 M1114.2,2204.4 H1148.6000000000001 M1115.4,2210.4 H1147.4 M1117.9,2215.4 H1144.9"/>
</g>
</svg>
</body></html>
